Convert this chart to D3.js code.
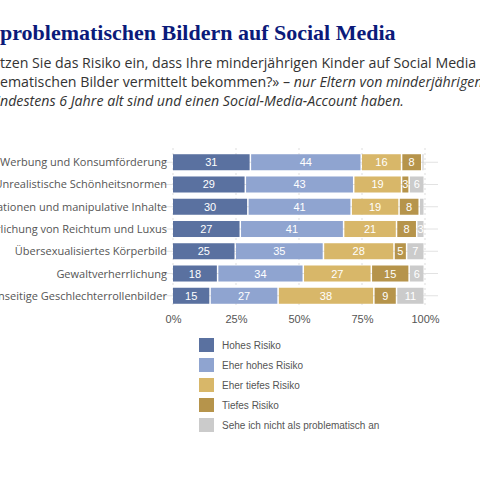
<!DOCTYPE html><html><head><meta charset="utf-8"><script src="https://cdn.jsdelivr.net/npm/d3@7"></script>
<style>body{margin:0;background:#fff}svg{display:block}</style></head><body><svg width="480" height="480"></svg>
<script>
const categories=["Werbung und Konsumförderung","Unrealistische Schönheitsnormen","Desinformationen und manipulative Inhalte","Verherrlichung von Reichtum und Luxus","Übersexualisiertes Körperbild","Gewaltverherrlichung","Einseitige Geschlechterrollenbilder"];
const seriesNames=["Hohes Risiko","Eher hohes Risiko","Eher tiefes Risiko","Tiefes Risiko","Sehe ich nicht als problematisch an"];
const hohes=[31,29,30,27,25,18,15];
const eherHohes=[44,43,41,41,35,34,27];
const eherTiefes=[16,19,19,21,28,27,38];
const tiefes=[8,3,8,8,5,15,9];
const nicht=[1,6,2,3,7,6,11];
const ticks=[0,25,50,75,100];
const colors=["#5a71a0","#8fa4d0","#d8b769","#b6944b","#cbcbcb"];
const series=[hohes,eherHohes,eherTiefes,tiefes,nicht];
const svg=d3.select("svg");
function split(pre,rest,y,attrs,italicRest){
 const a=svg.append("text").attr("x",0).attr("y",y).attr("text-anchor","end");
 const b=svg.append("text").attr("x",0).attr("y",y);
 [a,b].forEach(t=>Object.entries(attrs).forEach(([k,v])=>t.attr(k,v)));
 if(pre)a.text(pre);
 rest.forEach(([s,it])=>b.append("tspan").attr("font-style",it?"italic":null).text(s));
}
split("Risiko von ",[["problematischen Bildern auf Social Media"]],40,{"font-family":"Liberation Serif,serif","font-weight":"bold","font-size":22,"fill":"#0b1a7a"});
const sa={"font-family":"Open Sans,sans-serif","font-size":14.2,"fill":"#333"};
split("«Wie schä",[["tzen Sie das Risiko ein, dass Ihre minderjährigen Kinder auf Social Media"]],68,sa);
split("über die probl",[["ematischen Bilder vermittelt bekommen?» – "],["nur Eltern von minderjährigen Kindern",1]],87,sa);
split("",[["",0],["ndestens 6 Jahre alt sind und einen Social-Media-Account haben.",1]],106,sa);
svg.append("text").attr("x",0).attr("y",106).attr("text-anchor","end").attr("font-style","italic").attr("font-family","Open Sans,sans-serif").attr("font-size",14.2).text("deren Kinder mi");
const x=d3.scaleLinear().domain([0,100]).range([173,425]);
const y=d3.scaleBand().domain(categories).range([148,310]).padding(0.28);
const g=svg.append("g");
g.selectAll(".grid").data(ticks).join("line").attr("x1",d=>x(d)).attr("x2",d=>x(d)).attr("y1",148).attr("y2",308).attr("stroke","#ddd").attr("stroke-dasharray","2,3");
categories.forEach(c=>g.append("line").attr("x1",160).attr("x2",438).attr("y1",y(c)+y.bandwidth()/2).attr("y2",y(c)+y.bandwidth()/2).attr("stroke","#e2e2e2"));
categories.forEach((c,i)=>{let acc=0;series.forEach((s,k)=>{const v=s[i];const x0=x(acc),x1=x(acc+v);
 g.append("rect").attr("x",x0).attr("y",y(c)).attr("width",Math.max(0,x1-x0-1.5)).attr("height",y.bandwidth()).attr("fill",colors[k]);
 if(v>=3)g.append("text").attr("x",(x0+x1-1.5)/2).attr("y",y(c)+y.bandwidth()/2+4).attr("text-anchor","middle").attr("font-family","Liberation Sans,sans-serif").attr("font-size",11).attr("fill","#fff").text(v);
 acc+=v;});
 g.append("text").attr("x",167).attr("y",y(c)+y.bandwidth()/2+4).attr("text-anchor","end").attr("font-family","Open Sans,sans-serif").attr("font-size",11).attr("fill","#555").text(c);});
const ax=svg.append("g").attr("transform","translate(0,312)").call(d3.axisBottom(x).tickValues(ticks).tickFormat(d=>d+"%").tickSize(0));
ax.select(".domain").remove();ax.selectAll("text").attr("font-family","Liberation Sans,sans-serif").attr("font-size",11).attr("fill","#555");
const lg=svg.append("g");
seriesNames.forEach((n,k)=>{lg.append("rect").attr("x",199).attr("y",338+k*20).attr("width",15).attr("height",14).attr("fill",colors[k]);
 lg.append("text").attr("x",222).attr("y",349+k*20).attr("font-family","Liberation Sans,sans-serif").attr("font-size",10).attr("fill","#555").text(n);});
</script></body></html>
